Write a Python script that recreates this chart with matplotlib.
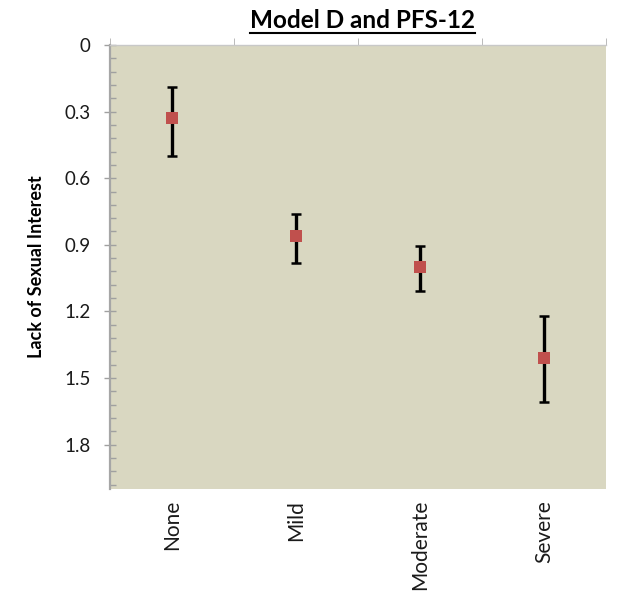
import matplotlib.pyplot as plt
import numpy as np

# data
categories = ['None', 'Mild', 'Moderate', 'Severe']
means = [0.33, 0.86, 1.00, 1.41]
err_low = [0.19, 0.76, 0.905, 1.22]   # upper end of bar on screen (smaller value)
err_high = [0.50, 0.98, 1.11, 1.61]
yticks = [0, 0.3, 0.6, 0.9, 1.2, 1.5, 1.8]
ytick_labels = ['0', '0.3', '0.6', '0.9', '1.2', '1.5', '1.8']

plt.rcParams['font.family'] = ['Lato', 'DejaVu Sans']

fig = plt.figure(figsize=(6.19, 5.96), dpi=100)
ax = fig.add_axes([110 / 619, 1 - 489 / 596, 496 / 619, 444 / 596])
ax.set_facecolor('#d9d7c1')

x = np.arange(len(categories))
m = np.array(means)
yerr = np.array([m - np.array(err_low), np.array(err_high) - m])
ax.errorbar(x, m, yerr=yerr, fmt='none', ecolor='black', elinewidth=2.4,
            capsize=3.5, capthick=1.8, zorder=2)
ax.plot(x, m, 's', color='#c0504d', markersize=9, markeredgewidth=0, zorder=3)

ax.set_xlim(-0.5, 3.5)
ax.set_ylim(2.0, 0)

# y axis
ax.set_yticks(yticks)
ax.set_yticklabels(ytick_labels, fontsize=13.5, color='#1a1a1a')
ax.set_yticks(np.arange(0, 2.0, 0.06), minor=True)
ax.tick_params(axis='y', which='major', direction='inout', length=8,
               width=1, color='#a0a0a0', pad=10)
ax.tick_params(axis='y', which='minor', direction='in', length=4,
               width=1, color='#a0a0a0')

# x axis: labels at bottom, tick marks on the top line
ax.set_xticks(x)
ax.set_xticklabels(categories, rotation=90, fontsize=15, color='#1a1a1a')
ax.set_xticks([-0.5, 0.5, 1.5, 2.5, 3.5], minor=True)
ax.tick_params(axis='x', which='major', length=0, pad=8)
ax.tick_params(axis='x', which='minor', bottom=False, top=True,
               direction='out', length=5, color='#b0b0b0')

for s in ['right', 'bottom']:
    ax.spines[s].set_visible(False)
ax.spines['left'].set_color('#a6a6a6')
ax.spines['left'].set_linewidth(1.6)
ax.spines['top'].set_color('#c8c8c8')
ax.spines['top'].set_linewidth(1)

ax.set_ylabel('Lack of Sexual Interest', fontsize=13, fontweight='bold')
ax.yaxis.set_label_coords(-0.132, 0.5)

t = fig.text(362 / 619, 1 - 20 / 596, 'Model D and PFS-12', ha='center',
             va='center', fontsize=17.5, fontweight='bold')
# underline under title
fig.canvas.draw()
bb = t.get_window_extent()
fig.add_artist(plt.Line2D([bb.x0 / 619, bb.x1 / 619],
                          [(bb.y0 - 1) / 596, (bb.y0 - 1) / 596],
                          color='black', linewidth=1.5))

fig.savefig('out.png', dpi=100)
